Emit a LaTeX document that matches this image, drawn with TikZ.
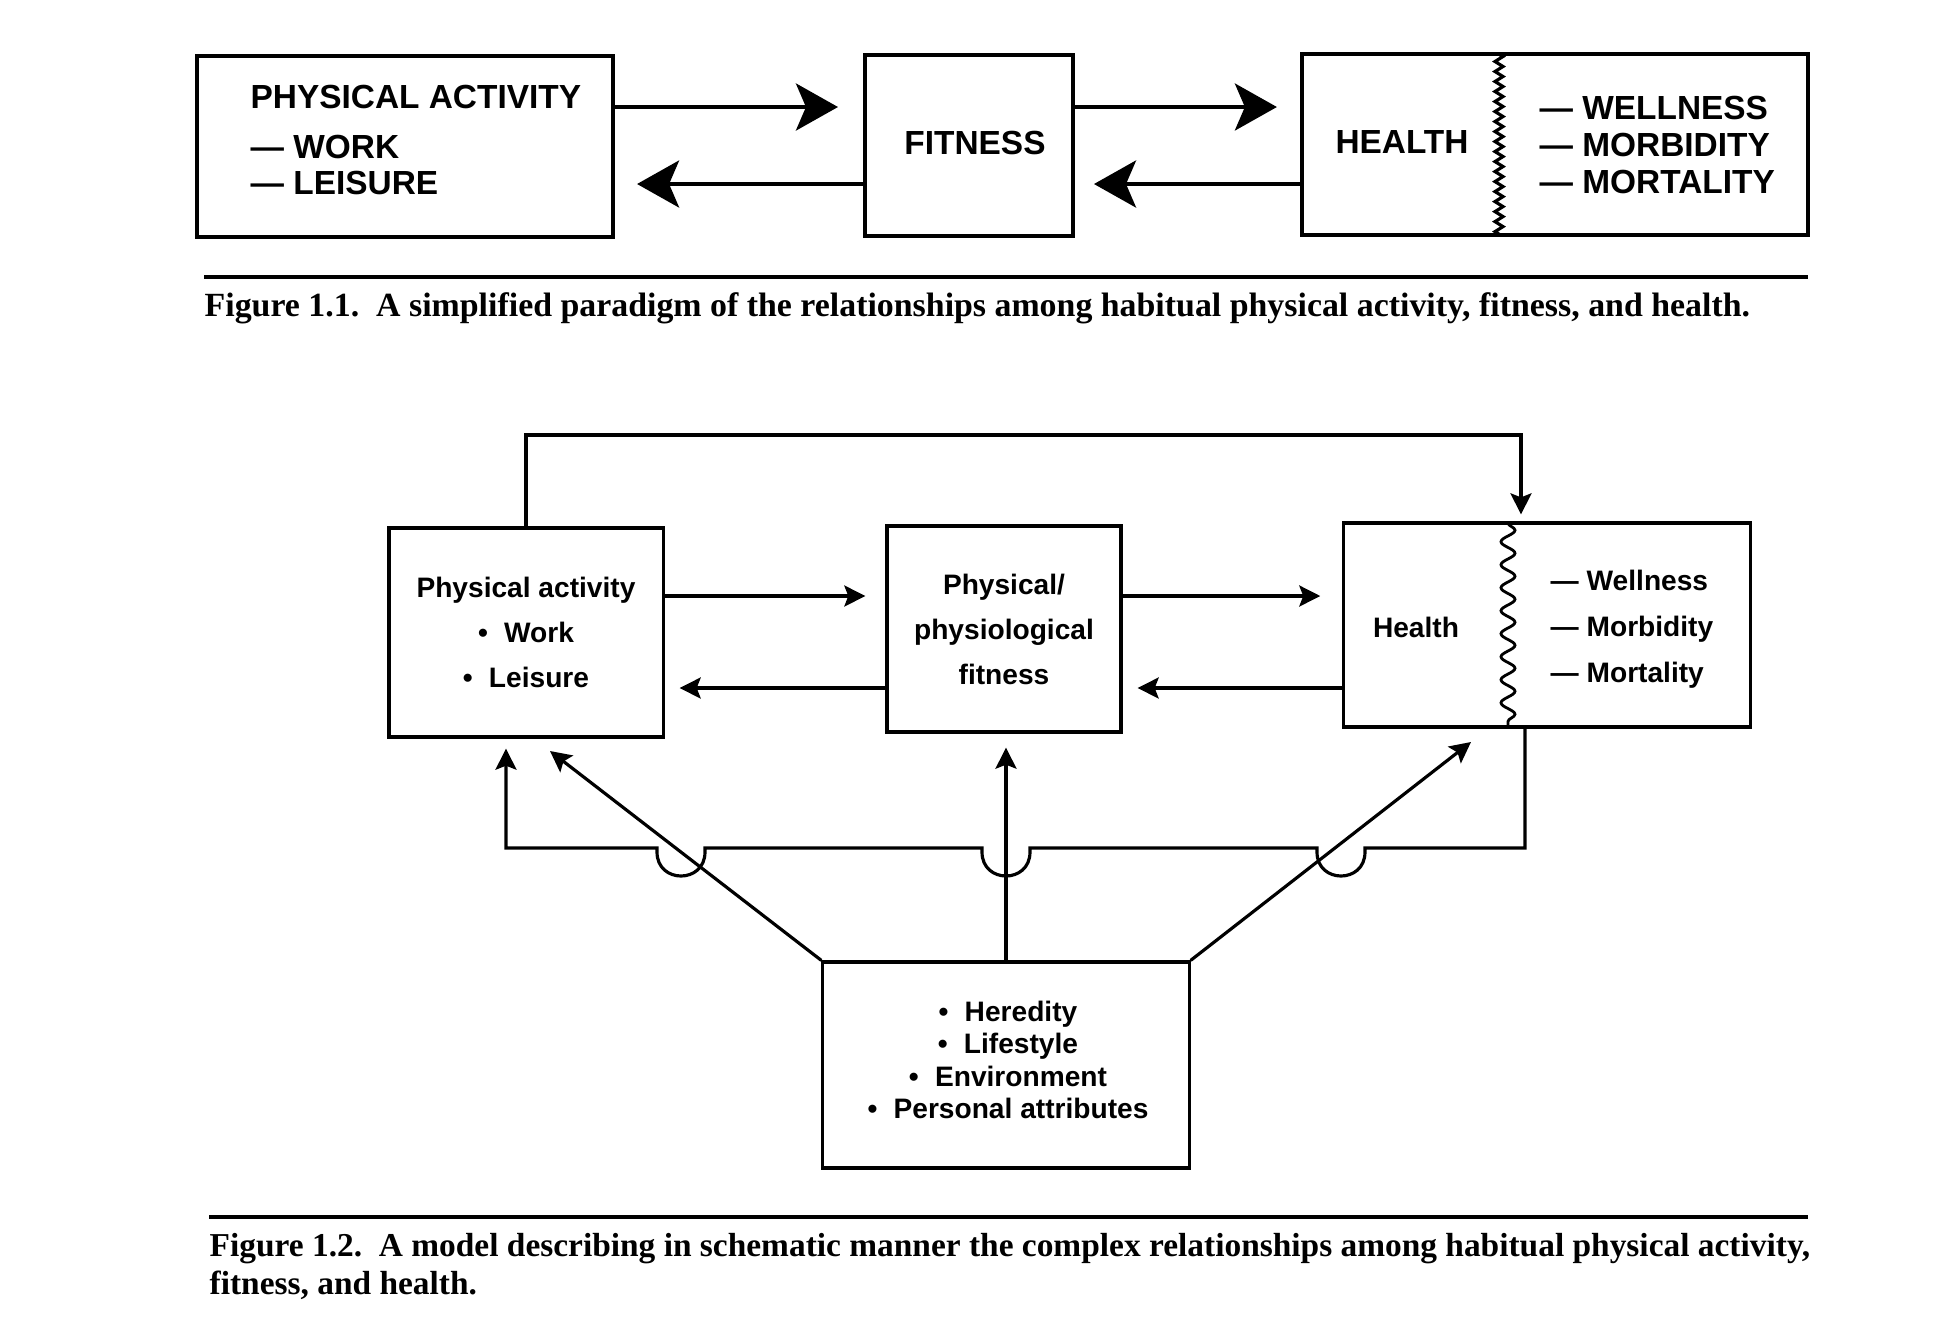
\documentclass[tikz,border=0pt]{standalone}
\usepackage{fontspec}
\setmainfont{Liberation Serif}
\setsansfont{Liberation Sans}
\usetikzlibrary{arrows.meta,decorations.pathmorphing}
\newcommand{\blt}{\textbullet\hspace{0.3em} }
\tikzset{
    box_node/.style = {draw=black, rectangle, inner sep=0pt, text centered},
    box_one/.style = {box_node, line width=1.1pt, font=\fontsize{9.5}{10.5}\selectfont\sffamily\bfseries},
    box_two/.style = {box_node, line width=0.9pt, align=center, font=\fontsize{8}{12.8}\selectfont\sffamily\bfseries},
    txt_one/.style = {inner sep=0pt, align=left, font=\fontsize{9.5}{10.5}\selectfont\sffamily\bfseries},
    txt_two/.style = {inner sep=0pt, align=left, font=\fontsize{8}{13}\selectfont\sffamily\bfseries},
    arr_one/.style = {line width=1.1pt, -{Stealth[length=0.42cm, width=0.47cm, inset=0.1cm]}},
    arr_two/.style = {line width=0.9pt, -{Stealth[length=0.21cm, width=0.21cm, inset=0.04cm]}},
    fig_rule/.style = {line width=1.2pt},
    fig_caption/.style = {inner sep=0pt, anchor=base west, align=left, font=\fontsize{9.63}{10.8}\selectfont\bfseries}
}
\begin{document}
\begin{tikzpicture}[x=0.01cm, y=-0.01cm]
\useasboundingbox (0,0) rectangle (1959,1329);
% Figure 1.1
\node [box_one, minimum width=4.16cm, minimum height=1.81cm] (pa1) at (405,146.5) {};
\node [txt_one, anchor=west] (pa1_txt) at (250,140)
    {PHYSICAL ACTIVITY\\[3.7pt]— WORK\\— LEISURE};
\node [box_one, minimum width=2.08cm, minimum height=1.81cm] (fit1) at (969,145.5) {};
\node [txt_one] (fit1_txt) at (975,143) {FITNESS};
\node [box_one, minimum width=5.06cm, minimum height=1.81cm] (hea1) at (1555,144.5) {};
\node [txt_one] (hea1_lbl) at (1402,142) {HEALTH};
\node [txt_one, anchor=west] (hea1_list) at (1539,145) {— WELLNESS\\— MORBIDITY\\— MORTALITY};
\draw [line width=0.9pt, decorate, decoration={zigzag, segment length=0.1cm, amplitude=0.04cm}]
    (1499,54) -- (1499,235);

\coordinate (row_1a) at (0,107);
\coordinate (row_1b) at (0,184);
\draw [arr_one, shorten >=0.25cm] (pa1.east |- row_1a) -- (fit1.west |- row_1a);
\draw [arr_one, shorten >=0.22cm] (fit1.west |- row_1b) -- (pa1.east |- row_1b);
\draw [arr_one, shorten >=0.23cm] (fit1.east |- row_1a) -- (hea1.west |- row_1a);
\draw [arr_one, shorten >=0.19cm] (hea1.west |- row_1b) -- (fit1.east |- row_1b);

\draw [fig_rule] (204,277) -- (1808,277);
\node [fig_caption] (cap1) at (204,316)
    {Figure 1.1.\enspace A simplified paradigm of the relationships among habitual physical activity, fitness, and health.};

% Figure 1.2
\node [box_two, minimum width=2.74cm, minimum height=2.09cm] (pa2) at (526,632.5)
    {Physical activity\\\blt Work\\\blt Leisure};
\node [box_two, minimum width=2.34cm, minimum height=2.06cm] (fit2) at (1004,629)
    {Physical/\\physiological\\fitness};
\node [box_two, minimum width=4.06cm, minimum height=2.04cm] (hea2) at (1547,625) {};
\node [txt_two] (hea2_lbl) at (1416,627) {Health};
\node [txt_two, anchor=west] (hea2_list) at (1550,629) {— Wellness\\— Morbidity\\— Mortality};
\draw [line width=0.8pt, decorate, decoration={snake, segment length=0.23cm, amplitude=0.07cm}]
    (1508,523) -- (1508,727);
\node [box_two, minimum width=3.66cm, minimum height=2.06cm] (fac2) at (1006,1065) {};
\node [box_two, draw=none, font=\fontsize{8}{9.2}\selectfont\sffamily\bfseries] (fac2_txt) at (1008,1060)
    {\blt Heredity\\\blt Lifestyle\\\blt Environment\\\blt Personal attributes};

\coordinate (row_2a) at (0,596);
\coordinate (row_2b) at (0,688);
\draw [arr_two, shorten >=0.2cm] (pa2.east |- row_2a) -- (fit2.west |- row_2a);
\draw [arr_two, shorten >=0.15cm] (fit2.west |- row_2b) -- (pa2.east |- row_2b);
\draw [arr_two, shorten >=0.22cm] (fit2.east |- row_2a) -- (hea2.west |- row_2a);
\draw [arr_two, shorten >=0.15cm] (hea2.west |- row_2b) -- (fit2.east |- row_2b);

\coordinate (fb_top) at (1521,435);
\draw [arr_two, shorten >=0.07cm] (pa2.north) |- (fb_top) -- (fb_top |- hea2.north);

\coordinate (fb_r) at (1525,848);
\coordinate (fb_l) at (506,848);
\draw [arr_two, shorten >=0.1cm] (hea2.south -| fb_r) -- (fb_r)
    -- (1365,848) -- (1365,852) .. controls (1365,884) and (1317,884) .. (1317,852) -- (1317,848)
    -- (1030,848) -- (1030,852) .. controls (1030,884) and (982,884) .. (982,852) -- (982,848)
    -- (705,848) -- (705,852) .. controls (705,884) and (657,884) .. (657,852) -- (657,848)
    -- (fb_l) -- (pa2.south -| fb_l);

\coordinate (pa2_in) at (550,751);
\coordinate (hea2_in) at (1471,742);
\draw [arr_two] (fac2.north west) -- (pa2_in);
\draw [arr_two, shorten >=0.14cm] (fac2.north) -- (fac2.north |- fit2.south);
\draw [arr_two] (fac2.north east) -- (hea2_in);

\draw [fig_rule] (209,1217) -- (1808,1217);
\node [fig_caption, font=\fontsize{9.5}{10.8}\selectfont\bfseries] (cap2) at (209,1294)
    {Figure 1.2.\enspace A model describing in schematic manner the complex relationships among habitual physical activity,\\fitness, and health.};
\end{tikzpicture}
\end{document}
